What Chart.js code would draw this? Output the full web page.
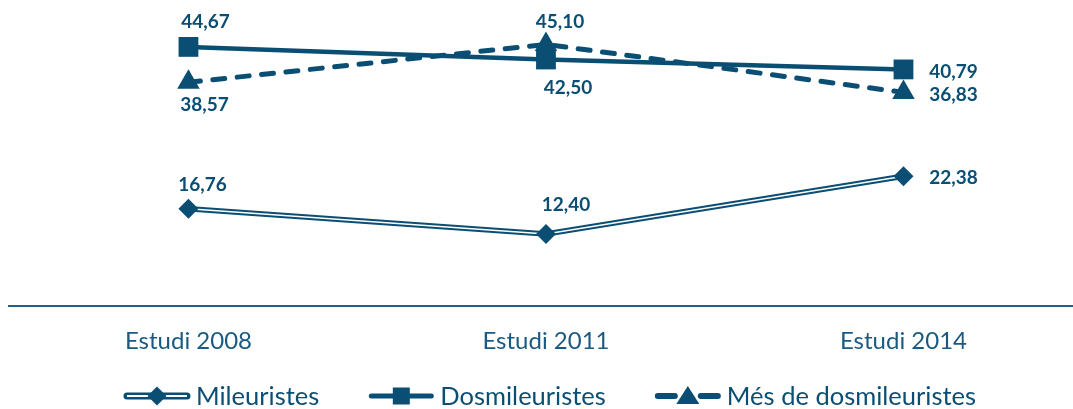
<!DOCTYPE html>
<html><head><meta charset="utf-8">
<script src="https://cdn.jsdelivr.net/npm/chart.js@4"></script>
<style>html,body{margin:0;padding:0;background:#fff;overflow:hidden}
#wrap{width:1073px;height:409px;position:relative}</style>
</head><body><div id="wrap"><canvas id="c"></canvas></div>
<script>
// ---- data ----
const categories = ['Estudi 2008', 'Estudi 2011', 'Estudi 2014'];
const seriesNames = ['Mileuristes', 'Dosmileuristes', 'Més de dosmileuristes'];
const mileuristes = [16.76, 12.40, 22.38];
const dosmileuristes = [44.67, 42.50, 40.79];
const mesDeDosmileuristes = [38.57, 45.10, 36.83];

// ---- style ----
const MARK = '#0A4E73';
const TICK = '#1A5A82';
const AXIS = '#1F5F8B';
const FONT = 'Lato, "Open Sans", sans-serif';
// label offsets (dx, dy) relative to each point
const labelOffsets = {
  mil: [[14, -24], [20, -29], [50, 2]],
  dos: [[17, -25], [22, 28], [50, 2]],
  mes: [[16, 23], [14, -23], [50, 2]]
};

const toXY = arr => arr.map((v, i) => ({x: i, y: v}));
const fmt = v => v.toFixed(2).replace('.', ',');

const datasets = [
  {key: 'mil', label: seriesNames[0], data: toXY(mileuristes), borderColor: MARK, borderWidth: 5.5,
   pointRadius: 0, order: 3, tension: 0},
  {key: 'milInner', label: '', data: toXY(mileuristes), borderColor: '#ffffff', borderWidth: 1.5,
   pointRadius: 0, order: 2, tension: 0},
  {key: 'milPts', label: '', data: toXY(mileuristes), showLine: false, pointStyle: 'rectRot',
   pointRadius: 10, pointBackgroundColor: MARK, pointBorderWidth: 0, order: 1},
  {key: 'dos', label: seriesNames[1], data: toXY(dosmileuristes), borderColor: MARK, borderWidth: 4.5,
   pointStyle: 'rect', pointRadius: 14, pointBackgroundColor: MARK, pointBorderWidth: 0, order: 4},
  {key: 'mes', label: seriesNames[2], data: toXY(mesDeDosmileuristes), borderColor: MARK, borderWidth: 5,
   borderDash: [12, 12.5], borderCapStyle: 'round', pointStyle: 'triangle', pointRadius: 13,
   pointBackgroundColor: MARK, pointBorderWidth: 0, order: 5}
];

const labelPlugin = {
  id: 'valueLabels',
  afterDatasetsDraw(chart) {
    const ctx = chart.ctx;
    ctx.save();
    ctx.font = 'bold 19px ' + FONT;
    ctx.fillStyle = MARK;
    ctx.textAlign = 'center';
    ctx.textBaseline = 'middle';
    const map = {milPts: 'mil', dos: 'dos', mes: 'mes'};
    chart.data.datasets.forEach((ds, di) => {
      const k = map[ds.key];
      if (!k) return;
      const meta = chart.getDatasetMeta(di);
      meta.data.forEach((pt, i) => {
        const o = labelOffsets[k][i];
        ctx.fillText(fmt(ds.data[i].y), pt.x + o[0], pt.y + o[1]);
      });
    });
    ctx.restore();
  }
};

const axisLinePlugin = {
  id: 'axisLine',
  beforeDatasetsDraw(chart) {
    const ctx = chart.ctx;
    const y = chart.scales.y.getPixelForValue(0);
    ctx.save();
    ctx.strokeStyle = AXIS;
    ctx.lineWidth = 2;
    ctx.beginPath(); ctx.moveTo(8, y); ctx.lineTo(chart.width, y); ctx.stroke();
    ctx.restore();
  }
};

function drawMarker(ctx, style, x, y) {
  ctx.fillStyle = MARK;
  ctx.beginPath();
  if (style === 0) {
    const r = 9.5;
    ctx.moveTo(x, y - r); ctx.lineTo(x + r, y); ctx.lineTo(x, y + r); ctx.lineTo(x - r, y);
  } else if (style === 1) {
    const s = 17;
    ctx.rect(x - s / 2, y - s / 2, s, s);
  } else {
    ctx.moveTo(x, y - 10); ctx.lineTo(x + 11.5, y + 8); ctx.lineTo(x - 11.5, y + 8);
  }
  ctx.closePath();
  ctx.fill();
}

const legendPlugin = {
  id: 'customLegend',
  afterDraw(chart) {
    const ctx = chart.ctx;
    ctx.save();
    ctx.font = '25.5px ' + FONT;
    const y = 396;
    const symW = 66, gapT = 6, gapI = 49;
    const widths = seriesNames.map(n => ctx.measureText(n).width);
    let total = 0;
    widths.forEach((w, i) => { total += symW + gapT + w + (i < widths.length - 1 ? gapI : 0); });
    let x = 550 - total / 2;
    seriesNames.forEach((name, i) => {
      ctx.strokeStyle = MARK;
      ctx.lineCap = 'round';
      if (i === 0) {
        ctx.lineWidth = 7;
        ctx.beginPath(); ctx.moveTo(x + 3, y); ctx.lineTo(x + symW - 3, y); ctx.stroke();
        ctx.strokeStyle = '#fff'; ctx.lineWidth = 2; ctx.lineCap = 'butt';
        ctx.beginPath(); ctx.moveTo(x + 3, y); ctx.lineTo(x + symW - 3, y); ctx.stroke();
      } else if (i === 1) {
        ctx.lineWidth = 5;
        ctx.beginPath(); ctx.moveTo(x + 3, y); ctx.lineTo(x + symW - 3, y); ctx.stroke();
      } else {
        ctx.lineWidth = 6;
        ctx.beginPath(); ctx.moveTo(x + 3, y); ctx.lineTo(x + 20, y); ctx.stroke();
        ctx.beginPath(); ctx.moveTo(x + symW - 20, y); ctx.lineTo(x + symW - 3, y); ctx.stroke();
      }
      drawMarker(ctx, i, x + symW / 2, y);
      ctx.fillStyle = MARK;
      ctx.textAlign = 'left';
      ctx.textBaseline = 'middle';
      ctx.fillText(name, x + symW + gapT, y + 1);
      x += symW + gapT + widths[i] + gapI;
    });
    ctx.restore();
  }
};

new Chart(document.getElementById('c'), {
  type: 'line',
  data: {datasets},
  options: {
    responsive: true,
    maintainAspectRatio: false,
    animation: false,
    layout: {padding: {top: 16, left: 8, right: 0, bottom: 0}},
    plugins: {legend: {display: false}, tooltip: {enabled: false}},
    scales: {
      x: {
        type: 'linear', min: -0.488, max: 2.435,
        afterBuildTicks: s => { s.ticks = categories.map((c, i) => ({value: i})); },
        afterFit: s => { s.height = 103; },
        grid: {display: false},
        border: {display: false},
        ticks: {
          callback: v => categories[v] ?? '',
          color: TICK, font: {family: FONT, size: 24}, padding: 13, maxRotation: 0, autoSkip: false
        }
      },
      y: {display: false, min: 0, max: 50}
    }
  },
  plugins: [axisLinePlugin, labelPlugin, legendPlugin]
});
</script>
</body></html>
